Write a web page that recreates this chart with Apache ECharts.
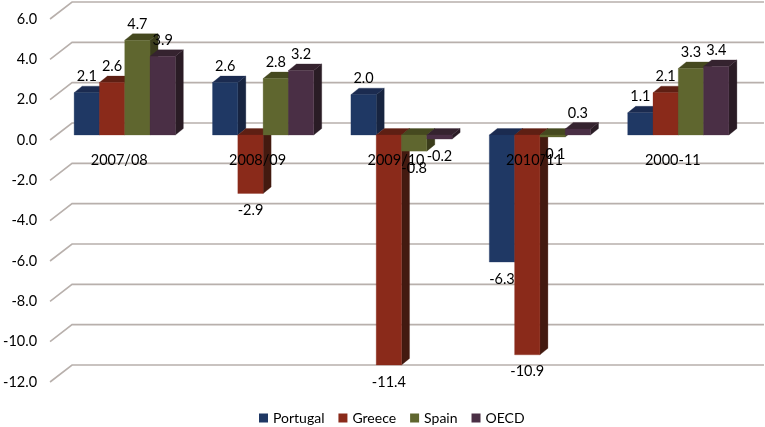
<!DOCTYPE html>
<html>
<head>
<meta charset="utf-8">
<style>html,body{margin:0;padding:0;background:#fff}#c{width:765px;height:427px}</style>
<script src="https://cdn.jsdelivr.net/npm/echarts@6/dist/echarts.min.js"></script>
</head>
<body>
<div id="c"></div>
<script>
const categories = ['2007/08', '2008/09', '2009/10', '2010/11', '2000-11'];
const portugal = [2.1, 2.6, 2.0, -6.3, 1.1];
const greece = [2.6, -2.9, -11.4, -10.9, 2.1];
const spain = [4.7, 2.8, -0.8, -0.1, 3.3];
const oecd = [3.9, 3.2, -0.2, 0.3, 3.4];
const gridTicks = [6, 4, 2, 0, -2, -4, -6, -8, -10, -12];

const FONT = 'Lato';
const TEXT = '#000000';
const BAR_W = 25.3, DX = 8, DY = 6.5, OFF_X = 5.5, OFF_Y = 5;
const WALL_DX = 22, WALL_DY = 17;

const palette = [
  {name: 'Portugal', values: portugal, front: '#1f3864', top: '#1b2b50', side: '#172440'},
  {name: 'Greece',   values: greece,   front: '#8a2a1a', top: '#5e1f13', side: '#431a10'},
  {name: 'Spain',    values: spain,    front: '#5f662f', top: '#45491f', side: '#3a3c1b'},
  {name: 'OECD',     values: oecd,     front: '#4a2f45', top: '#35232f', side: '#2a1c25'}
];

function barRenderer(si) {
  return function (params, api) {
    const cat = api.value(0), val = api.value(1);
    const zero = api.coord([cat, 0]);
    const end = api.coord([cat, val]);
    const x0 = zero[0] + OFF_X - 2 * BAR_W + si * BAR_W;
    const x1 = x0 + BAR_W;
    const yZero = zero[1] - OFF_Y;
    const yEnd = end[1] - OFF_Y;
    const yTop = Math.min(yZero, yEnd), yBot = Math.max(yZero, yEnd);
    const c = palette[si];
    const poly = (points, fill) => ({type: 'polygon', shape: {points}, style: {fill, stroke: fill, lineWidth: 0.3}});
    const neg = val < 0;
    const label = val.toFixed(1);
    return {
      type: 'group',
      children: [
        poly([[x1, yTop], [x1 + DX, yTop - DY], [x1 + DX, yBot - DY], [x1, yBot]], c.side),
        poly([[x0, yTop], [x0 + DX, yTop - DY], [x1 + DX, yTop - DY], [x1, yTop]], c.top),
        poly([[x0, yTop], [x1, yTop], [x1, yBot], [x0, yBot]], c.front),
        {
          type: 'text', z2: 10,
          style: {
            x: (x0 + x1) / 2, y: neg ? yBot + 17 : yTop - 16,
            text: label, fill: TEXT, font: '14.5px ' + FONT, align: 'center', verticalAlign: 'middle'
          }
        }
      ]
    };
  };
}

const wallSeries = {
  type: 'custom',
  name: 'walls',
  silent: true,
  z: 1,
  data: gridTicks.map(v => [0, v]),
  encode: {x: 0, y: 1},
  renderItem(params, api) {
    const y = api.coord([0, api.value(1)])[1];
    const left = params.coordSys.x, right = left + params.coordSys.width;
    return {
      type: 'polyline',
      shape: {points: [[left, y], [left + WALL_DX, y - WALL_DY], [right + WALL_DX, y - WALL_DY]]},
      style: {fill: 'none', stroke: '#b8b0ac', lineWidth: 1.6}
    };
  }
};

const barSeries = palette.map((c, si) => ({
  type: 'custom',
  name: c.name,
  silent: true,
  z: 2 + si,
  itemStyle: {color: c.front},
  data: c.values.map((v, i) => [i, v]),
  encode: {x: 0, y: 1},
  renderItem: barRenderer(si)
}));

const chart = echarts.init(document.getElementById('c'), null, {renderer: 'canvas'});
chart.setOption({
  animation: false,
  backgroundColor: '#ffffff',
  textStyle: {fontFamily: FONT},
  grid: {left: 47, top: 19, width: 695, height: 363, containLabel: false},
  xAxis: {
    type: 'category',
    data: categories,
    z: 20,
    position: 'bottom',
    offset: -242,
    axisLine: {show: false, onZero: false},
    axisTick: {show: false},
    splitLine: {show: false},
    axisLabel: {color: TEXT, fontSize: 14.5, fontFamily: FONT, margin: 13, interval: 0}
  },
  yAxis: {
    type: 'value',
    min: -12, max: 6, interval: 2,
    axisLine: {show: false},
    axisTick: {show: false},
    splitLine: {show: false},
    axisLabel: {color: TEXT, fontSize: 14.5, fontFamily: FONT, margin: 13, formatter: v => v.toFixed(1)}
  },
  legend: {
    data: palette.map(c => c.name),
    left: 259, top: 411, padding: 0,
    icon: 'rect',
    itemWidth: 9, itemHeight: 9, itemGap: 14,
    textStyle: {color: TEXT, fontSize: 14, fontFamily: FONT},
    selectedMode: false
  },
  series: [wallSeries].concat(barSeries)
});
</script>
</body>
</html>
